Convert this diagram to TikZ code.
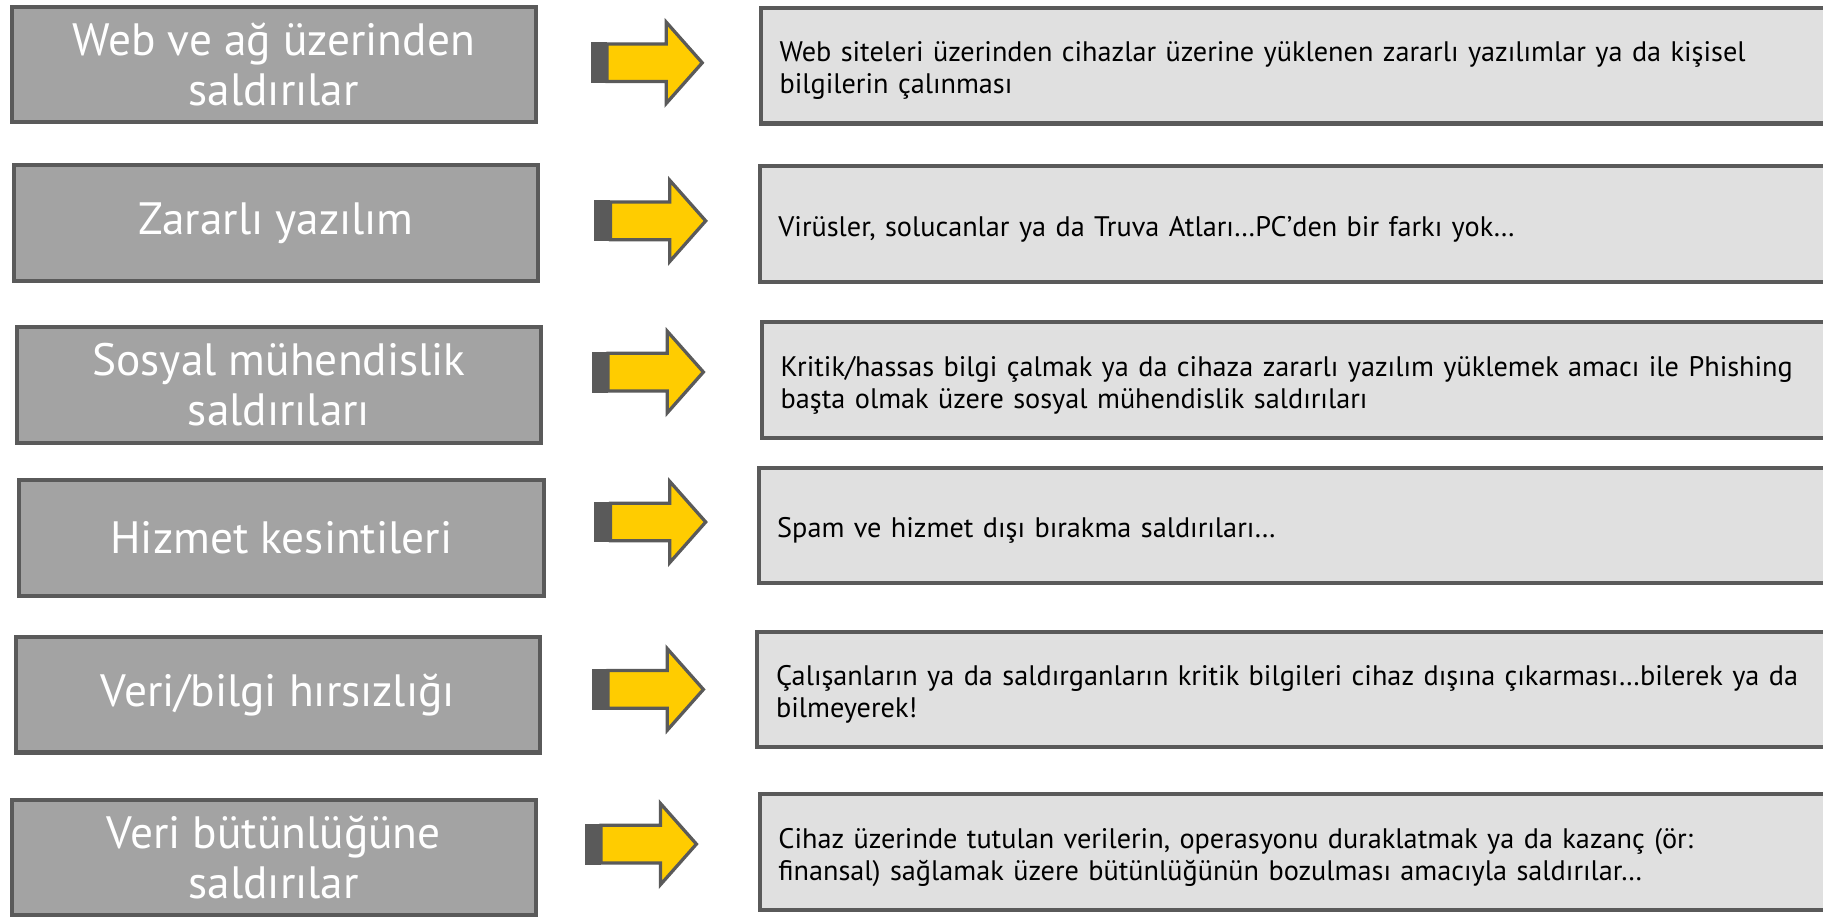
\documentclass[tikz,border=0pt]{standalone}
\usepackage{fontspec}
\setmainfont{PT Sans}
\definecolor{boxgray}{HTML}{A3A3A3}
\definecolor{edgegray}{HTML}{5A5A5A}
\definecolor{lightbox}{HTML}{E0E0E0}
\definecolor{eyyellow}{HTML}{FFCC00}
\tikzset{
  leftbox/.style={draw=edgegray, line width=3.5pt, fill=boxgray, text=white,
    font=\fontsize{39}{43}\selectfont, align=center, inner sep=0pt,
    minimum width=451pt, minimum height=99.5pt},
  rightbox/.style={draw=edgegray, line width=3.5pt, fill=lightbox, text=black,
    font=\fontsize{24.3}{27.5}\selectfont, align=left, text width=890pt,
    inner xsep=16pt, inner ysep=0pt, minimum height=99.5pt,
    execute at begin node={\rule{0pt}{26pt}}},
  yarrow/.pic={
    \fill[edgegray] (0,-17.6) rectangle (14,17.6);
    \draw[edgegray, line width=2.8pt, fill=eyyellow, line join=miter]
      (14,-16.2) -- (65,-16.2) -- (65,-35) -- (96,0) -- (65,35) -- (65,16.2) -- (14,16.2) -- cycle;
  }
}
\begin{document}
\begin{tikzpicture}[x=1pt,y=-1pt]
\clip (0,0) rectangle (1568,789);
\fill[white] (0,0) rectangle (1568,789);
% left boxes
\node[leftbox] (L1) at (235.5,55.5) {Web ve ağ üzerinden\\saldırılar};
\node[leftbox] (L2) at (237.5,192) {Zararlı yazılım};
\node[leftbox] (L3) at (240,331) {Sosyal mühendislik\\saldırıları};
\node[leftbox] (L4) at (242,462.5) {Hizmet kesintileri};
\node[leftbox] (L5) at (239,597.5) {Veri/bilgi hırsızlığı};
\node[leftbox] (L6) at (235.5,737.5) {Veri bütünlüğüne\\saldırılar};
% arrows
\pic at (508,54) {yarrow};
\pic at (511,190) {yarrow};
\pic at (509,320) {yarrow};
\pic at (511,449) {yarrow};
\pic at (509,593) {yarrow};
\pic at (503,726) {yarrow};
% right boxes
\node[rightbox, anchor=west] (R1) at (652.75,56.5) {Web siteleri üzerinden cihazlar üzerine yüklenen zararlı yazılımlar ya da kişisel\\bilgilerin çalınması};
\node[rightbox, anchor=west] (R2) at (651.75,192.5) {Virüsler, solucanlar ya da Truva Atları…PC’den bir farkı yok…};
\node[rightbox, anchor=west] (R3) at (653.75,327) {Kritik/hassas bilgi çalmak ya da cihaza zararlı yazılım yüklemek amacı ile Phishing\\başta olmak üzere sosyal mühendislik saldırıları};
\node[rightbox, anchor=west] (R4) at (650.75,452) {Spam ve hizmet dışı bırakma saldırıları…};
\node[rightbox, anchor=west] (R5) at (649.75,593) {Çalışanların ya da saldırganların kritik bilgileri cihaz dışına çıkarması…bilerek ya da\\bilmeyerek!};
\node[rightbox, anchor=west] (R6) at (651.75,733) {Cihaz üzerinde tutulan verilerin, operasyonu duraklatmak ya da kazanç (ör:\\finansal) sağlamak üzere bütünlüğünün bozulması amacıyla saldırılar…};
\end{tikzpicture}
\end{document}
